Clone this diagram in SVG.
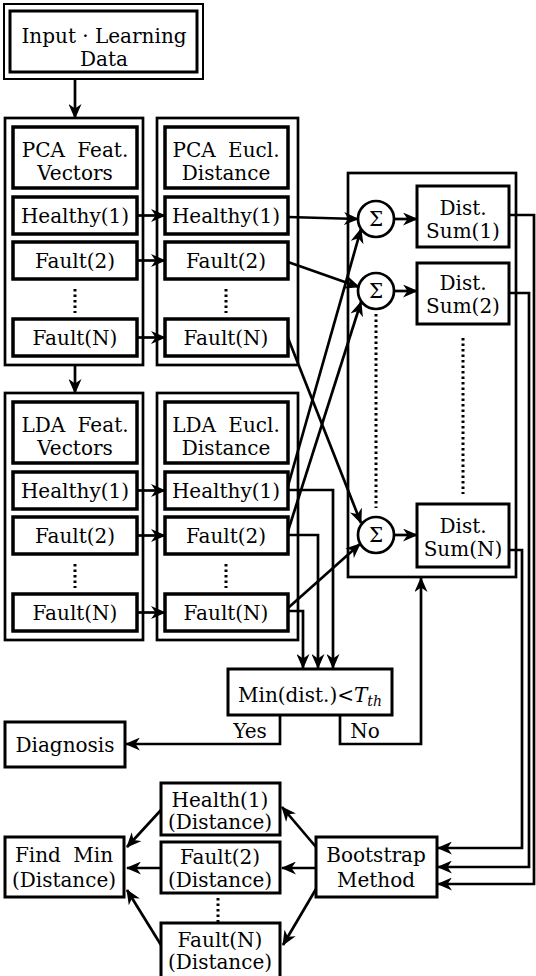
<svg xmlns="http://www.w3.org/2000/svg" width="536" height="976" viewBox="0 0 536 976">
<defs>
<style>
.t{font-family:"DejaVu Serif","Liberation Serif",serif;font-size:20px;fill:#000;text-anchor:middle}
.col{fill:none;stroke:#000;stroke-width:2.7}
.bx{fill:#fff;stroke:#000;stroke-width:3.5}
.b3{fill:#fff;stroke:#000;stroke-width:3}
.ln{fill:none;stroke:#000;stroke-width:2.7}
.ar{fill:none;stroke:#000;stroke-width:2.7;marker-end:url(#ah)}
.dot{fill:none;stroke:#000;stroke-width:3;stroke-dasharray:2.5 3}
</style>
<marker id="ah" viewBox="0 0 15 13" refX="14" refY="6.5" markerWidth="15" markerHeight="13" orient="auto" markerUnits="userSpaceOnUse"><path d="M0,0 L15,6.5 L0,13 L4.5,6.5 z" fill="#000"/></marker>
</defs>
<rect width="536" height="976" fill="#fff"/>

<g id="input">
<rect x="4" y="4" width="199" height="75" fill="#fff" stroke="#000" stroke-width="2"/>
<rect x="10" y="11" width="187" height="61" fill="#fff" stroke="#000" stroke-width="3"/>
<text class="t" x="104" y="43">Input · Learning</text>
<text class="t" x="104" y="66">Data</text>
</g>

<g id="pca-feat">
<rect class="col" x="5" y="118" width="138" height="247"/>
<rect class="bx" x="13" y="127" width="124" height="61"/>
<text class="t" x="75" y="157" word-spacing="6">PCA Feat.</text>
<text class="t" x="75" y="180">Vectors</text>
<rect class="bx" x="13" y="197" width="124" height="37"/>
<text class="t" x="75" y="223">Healthy(1)</text>
<rect class="bx" x="13" y="242" width="124" height="37"/>
<text class="t" x="75" y="268">Fault(2)</text>
<line class="dot" x1="75" y1="289" x2="75" y2="313"/>
<rect class="bx" x="13" y="319" width="124" height="37"/>
<text class="t" x="75" y="345">Fault(N)</text>
</g>

<g id="pca-eucl">
<rect class="col" x="157" y="118" width="141" height="247"/>
<rect class="bx" x="165" y="127" width="123" height="61"/>
<text class="t" x="226" y="157" word-spacing="6">PCA Eucl.</text>
<text class="t" x="226" y="180">Distance</text>
<rect class="bx" x="165" y="197" width="123" height="37"/>
<text class="t" x="226" y="223">Healthy(1)</text>
<rect class="bx" x="165" y="242" width="123" height="37"/>
<text class="t" x="226" y="268">Fault(2)</text>
<line class="dot" x1="226" y1="289" x2="226" y2="313"/>
<rect class="bx" x="165" y="319" width="123" height="37"/>
<text class="t" x="226" y="345">Fault(N)</text>
</g>

<g id="lda-feat">
<rect class="col" x="5" y="393" width="138" height="247"/>
<rect class="bx" x="13" y="402" width="124" height="61"/>
<text class="t" x="75" y="432" word-spacing="6">LDA Feat.</text>
<text class="t" x="75" y="455">Vectors</text>
<rect class="bx" x="13" y="472" width="124" height="37"/>
<text class="t" x="75" y="498">Healthy(1)</text>
<rect class="bx" x="13" y="517" width="124" height="37"/>
<text class="t" x="75" y="543">Fault(2)</text>
<line class="dot" x1="75" y1="564" x2="75" y2="588"/>
<rect class="bx" x="13" y="594" width="124" height="37"/>
<text class="t" x="75" y="620">Fault(N)</text>
</g>

<g id="lda-eucl">
<rect class="col" x="157" y="393" width="141" height="247"/>
<rect class="bx" x="165" y="402" width="123" height="61"/>
<text class="t" x="226" y="432" word-spacing="6">LDA Eucl.</text>
<text class="t" x="226" y="455">Distance</text>
<rect class="bx" x="165" y="472" width="123" height="37"/>
<text class="t" x="226" y="498">Healthy(1)</text>
<rect class="bx" x="165" y="517" width="123" height="37"/>
<text class="t" x="226" y="543">Fault(2)</text>
<line class="dot" x1="226" y1="564" x2="226" y2="588"/>
<rect class="bx" x="165" y="594" width="123" height="37"/>
<text class="t" x="226" y="620">Fault(N)</text>
</g>

<g id="dist-sum">
<rect class="col" x="348" y="173" width="168" height="404"/>
<line class="dot" x1="376" y1="314" x2="376" y2="508"/>
<line class="dot" x1="463" y1="338" x2="463" y2="494"/>
</g>
<g id="sigma1"><circle cx="376" cy="219" r="18" fill="#fff" stroke="#000" stroke-width="2.7"/><text class="t" x="376" y="226">Σ</text></g>
<g id="sigma2"><circle cx="376" cy="291" r="18" fill="#fff" stroke="#000" stroke-width="2.7"/><text class="t" x="376" y="298">Σ</text></g>
<g id="sigmaN"><circle cx="376" cy="535" r="18" fill="#fff" stroke="#000" stroke-width="2.7"/><text class="t" x="376" y="542">Σ</text></g>
<g id="sum1"><rect class="b3" x="417" y="186" width="92" height="61"/><text class="t" x="463" y="215">Dist.</text><text class="t" x="463" y="238">Sum(1)</text></g>
<g id="sum2"><rect class="b3" x="417" y="263" width="92" height="61"/><text class="t" x="463" y="290">Dist.</text><text class="t" x="463" y="313">Sum(2)</text></g>
<g id="sumN"><rect class="b3" x="417" y="504" width="92" height="63"/><text class="t" x="463" y="533">Dist.</text><text class="t" x="463" y="556">Sum(N)</text></g>

<g id="min">
<rect class="b3" x="228" y="669" width="164" height="46"/>
<text class="t" x="310" y="702">Min(dist.)&lt;<tspan font-style="italic">T</tspan><tspan font-style="italic" font-size="14" dy="4">th</tspan></text>
</g>
<g id="diagnosis"><rect class="b3" x="5" y="722" width="120" height="45"/><text class="t" x="65" y="752">Diagnosis</text></g>
<g id="bootstrap"><rect class="b3" x="316" y="837" width="121" height="60"/><text class="t" x="376" y="862">Bootstrap</text><text class="t" x="376" y="887">Method</text></g>
<g id="findmin"><rect class="b3" x="5" y="837" width="119" height="60"/><text class="t" x="64" y="862" word-spacing="6">Find Min</text><text class="t" x="64" y="887">(Distance)</text></g>
<g id="health1"><rect class="b3" x="161" y="783" width="119" height="52"/><text class="t" x="220" y="807">Health(1)</text><text class="t" x="220" y="829">(Distance)</text></g>
<g id="fault2"><rect class="b3" x="161" y="842" width="119" height="51"/><text class="t" x="220" y="864">Fault(2)</text><text class="t" x="220" y="887">(Distance)</text></g>
<line class="dot" x1="218" y1="898" x2="218" y2="922"/>
<g id="faultN"><path d="M161,980 V923 H280 V980" fill="#fff" stroke="#000" stroke-width="3"/><text class="t" x="220" y="947">Fault(N)</text><text class="t" x="220" y="969">(Distance)</text></g>

<g id="connectors">
<line class="ar" x1="75" y1="79" x2="75" y2="118"/>
<line class="ar" x1="75" y1="365" x2="75" y2="393"/>
<line class="ar" x1="137" y1="215.5" x2="165" y2="215.5"/>
<line class="ar" x1="137" y1="260.5" x2="165" y2="260.5"/>
<line class="ar" x1="137" y1="337.5" x2="165" y2="337.5"/>
<line class="ar" x1="137" y1="490.5" x2="165" y2="490.5"/>
<line class="ar" x1="137" y1="535.5" x2="165" y2="535.5"/>
<line class="ar" x1="137" y1="612.5" x2="165" y2="612.5"/>
<line class="ar" x1="288" y1="217" x2="358" y2="219"/>
<line class="ar" x1="288" y1="262" x2="359" y2="287"/>
<line class="ar" x1="288" y1="338" x2="361" y2="523"/>
<line class="ar" x1="288" y1="486" x2="361" y2="229"/>
<line class="ar" x1="288" y1="531" x2="361" y2="302"/>
<line class="ar" x1="288" y1="608" x2="360" y2="544"/>
<line class="ar" x1="394" y1="219" x2="417" y2="219"/>
<line class="ar" x1="394" y1="291" x2="417" y2="291"/>
<line class="ar" x1="394" y1="535" x2="417" y2="535"/>
<polyline class="ar" points="288,490 333,490 333,668"/>
<polyline class="ar" points="288,535 318,535 318,668"/>
<polyline class="ar" points="288,611 303,611 303,668"/>
<polyline class="ar" points="280,715 280,744 126,744"/>
<polyline class="ar" points="340,715 340,744 421,744 421,578"/>
<text class="t" x="250" y="738">Yes</text>
<text class="t" x="365" y="738">No</text>
<polyline class="ar" points="509,215 534,215 534,884 438,884"/>
<polyline class="ar" points="509,293 529,293 529,867 438,867"/>
<polyline class="ar" points="509,550 522,550 522,848 438,848"/>
<line class="ar" x1="316" y1="847" x2="282" y2="807"/>
<line class="ar" x1="316" y1="868" x2="282" y2="868"/>
<line class="ar" x1="316" y1="889" x2="283" y2="945"/>
<line class="ar" x1="161" y1="810" x2="127" y2="847"/>
<line class="ar" x1="161" y1="868" x2="127" y2="868"/>
<line class="ar" x1="161" y1="945" x2="127" y2="890"/>
</g>
</svg>
